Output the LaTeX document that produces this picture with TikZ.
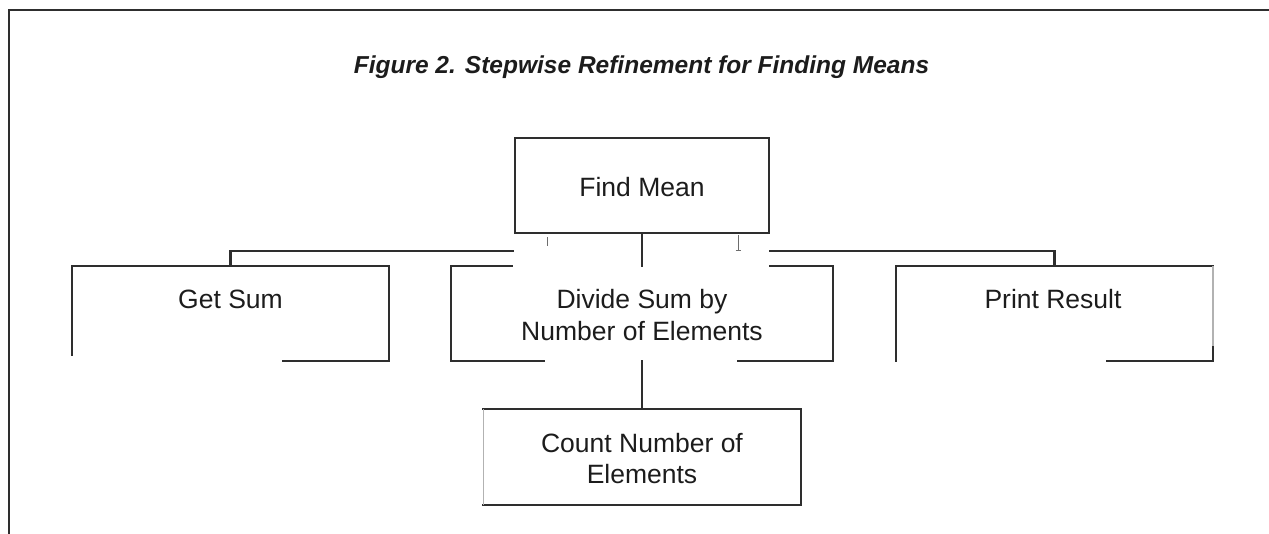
\documentclass[tikz,border=0pt]{standalone}
\usepackage{fontspec}
\setmainfont{Liberation Sans}
\usetikzlibrary{calc}
\definecolor{ink}{HTML}{2E2E2E}
\definecolor{txt}{HTML}{1C1C1C}
\begin{document}
\begin{tikzpicture}[x=1pt,y=-1pt,
  box/.style={rectangle, draw=none, inner sep=0pt, minimum width=#1, minimum height=95},
  edge/.style={draw=ink, line width=2.1pt, line cap=rect},
  faint/.style={draw=gray!60, line width=1.5pt},
  speck/.style={draw=ink!70, line width=1pt},
  lbl/.style={anchor=base, text=txt, font=\fontsize{26.5}{31}\selectfont, align=center, inner sep=0pt},
  ttl/.style={anchor=base, text=txt, font=\fontsize{24.5}{29}\selectfont\bfseries\itshape, inner sep=0pt}]
\useasboundingbox (0,0) rectangle (1269,533);
% frame
\draw[edge, line width=2.5pt] (9,533) -- (9,10) -- (1269,10);
% title
\node[ttl] (title) at (641.5,73) {Figure 2. Stepwise Refinement for Finding Means};
% boxes (outline drawn below as the scan shows it)
\node[box=254] (fm) at (642,185.5) {};
\node[box=317] (gs) at (230.5,313.5) {};
\node[box=381] (dv) at (642,313.5) {};
\node[box=317] (pr) at (1054.5,313.5) {};
\node[box=317, minimum height=96] (ct) at (642,457) {};
% labels
\node[lbl] (fmT) at (642,196) {Find Mean};
\node[lbl] (gsT) at (230.5,308) {Get Sum};
\node[lbl] (dvT1) at (642,308) {Divide Sum by};
\node[lbl] (dvT2) at (642,340) {Number of Elements};
\node[lbl] (prT) at (1053,308) {Print Result};
\node[lbl] (ctT1) at (642,452) {Count Number of};
\node[lbl] (ctT2) at (642,483) {Elements};
% Find Mean outline
\draw[edge] (fm.north west) rectangle (fm.south east);
% Get Sum outline
\draw[edge] ($(gs.north west)+(0,89)$) -- (gs.north west) -- (gs.north east) -- (gs.south east) -- ($(gs.south east)+(-106,0)$);
% Divide outline
\draw[edge] ($(dv.north west)+(61,0)$) -- (dv.north west) -- (dv.south west) -- ($(dv.south west)+(93,0)$);
\draw[edge] ($(dv.north east)+(-63,0)$) -- (dv.north east) -- (dv.south east) -- ($(dv.south east)+(-95,0)$);
% Print Result outline
\draw[edge] (pr.south west) -- (pr.north west) -- (pr.north east);
\draw[faint] (pr.north east) -- ($(pr.south east)+(0,-14)$);
\draw[edge] ($(pr.south east)+(0,-14)$) -- (pr.south east) -- ($(pr.south east)+(-106,0)$);
% Count outline
\draw[edge] (ct.north west) -- (ct.north east) -- (ct.south east) -- (ct.south west);
\draw[faint] (ct.south west) -- (ct.north west);
% connectors
\coordinate (busL) at (513,251);
\coordinate (busR) at (770,251);
\draw[edge] (gs.north) |- (busL);
\draw[edge] (pr.north) |- (busR);
\draw[edge] (fm.south) -- (dv.north);
\draw[edge] (dv.south) -- (ct.north);
% specks left by the scan
\draw[speck] (547,237) -- (547,246);
\draw[speck] (738,235) -- (738,250);
\draw[speck] (735.5,250) -- (740.5,250);
\end{tikzpicture}
\end{document}
